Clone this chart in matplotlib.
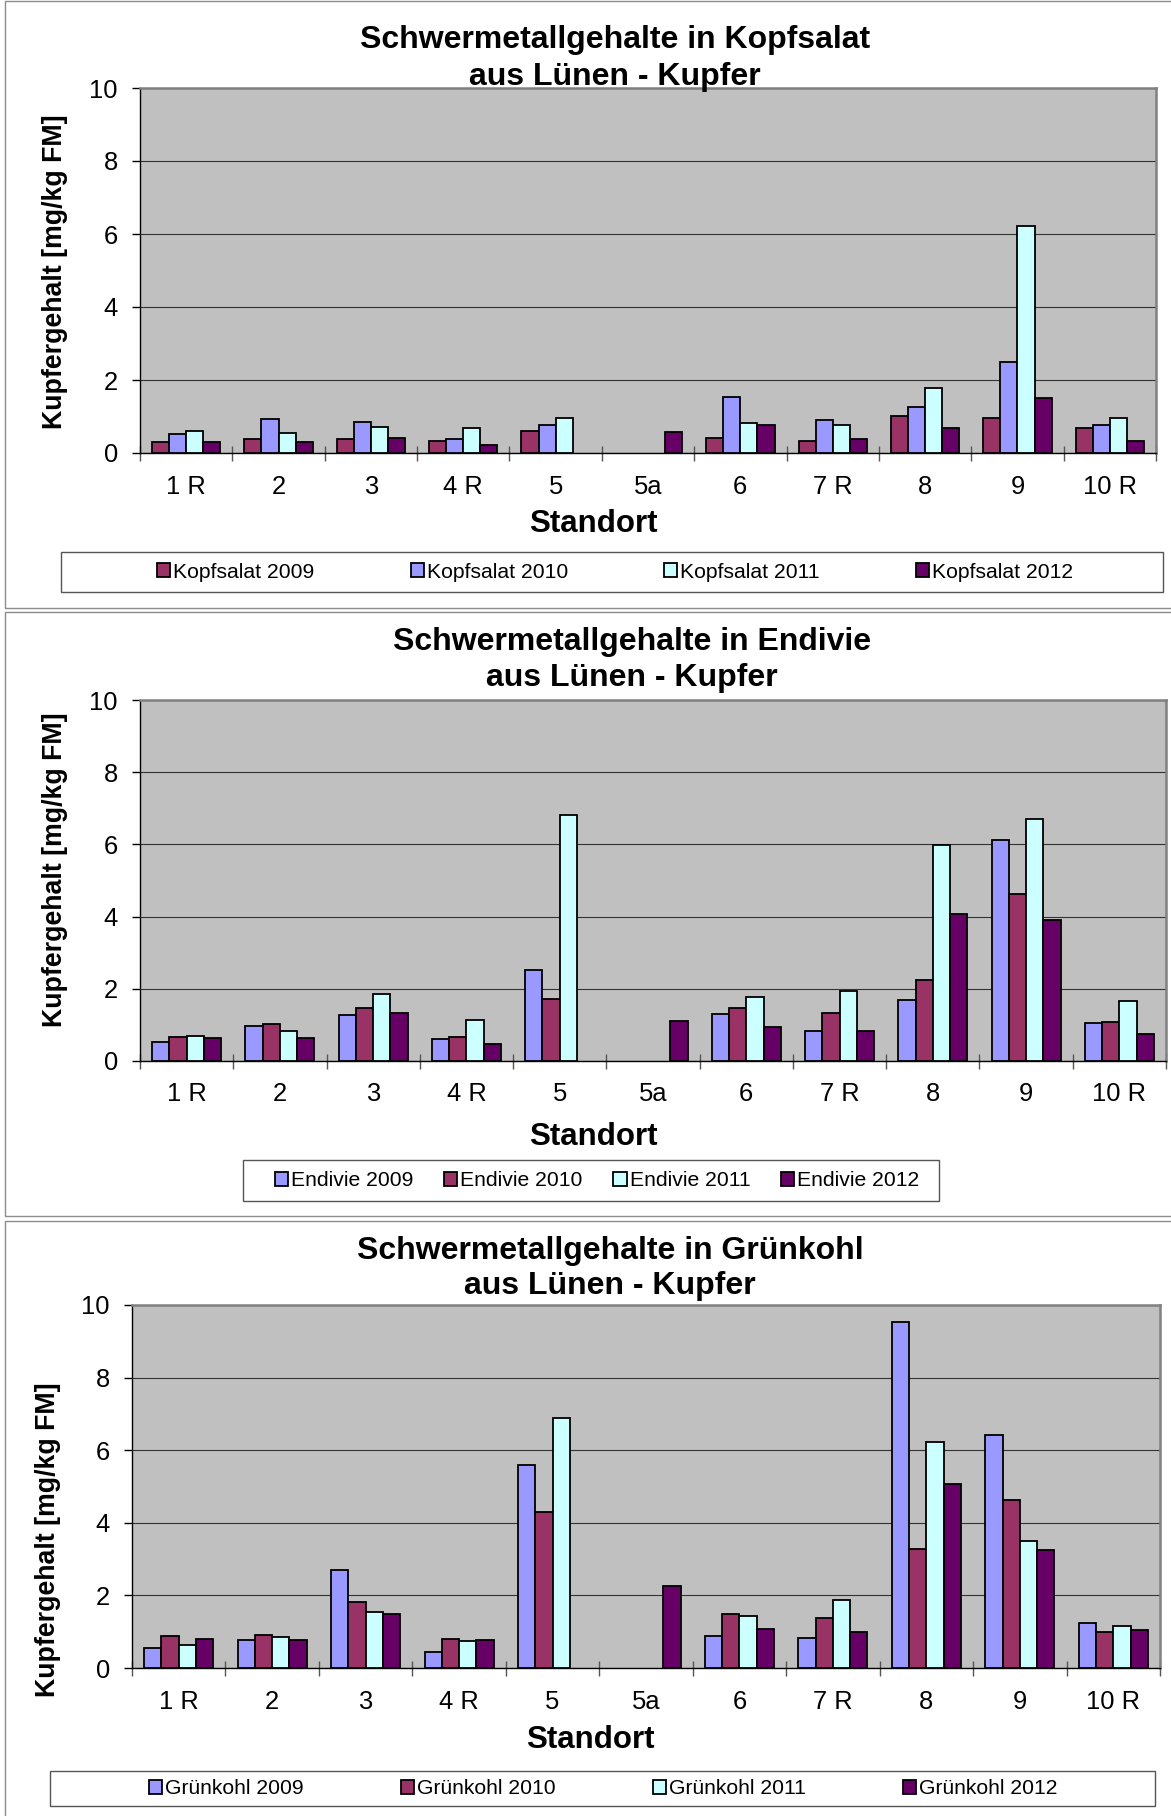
import numpy as np
import matplotlib
matplotlib.use("Agg")
import matplotlib.pyplot as plt
from matplotlib.patches import Rectangle

plt.rcParams['font.family'] = ['Liberation Sans', 'DejaVu Sans']

nan = np.nan
standorte = ["1 R", "2", "3", "4 R", "5", "5a", "6", "7 R", "8", "9", "10 R"]

# Kopfsalat, Kupfergehalt in mg/kg FM
kopfsalat_2009 = [0.29, 0.37, 0.39, 0.32, 0.61, nan, 0.40, 0.33, 1.02, 0.96, 0.69]
kopfsalat_2010 = [0.53, 0.94, 0.86, 0.37, 0.77, nan, 1.53, 0.91, 1.27, 2.49, 0.77]
kopfsalat_2011 = [0.59, 0.55, 0.71, 0.69, 0.96, nan, 0.83, 0.77, 1.78, 6.22, 0.95]
kopfsalat_2012 = [0.31, 0.31, 0.42, 0.21, nan, 0.58, 0.77, 0.37, 0.68, 1.51, 0.32]

# Endivie
endivie_2009 = [0.54, 0.96, 1.27, 0.60, 2.52, nan, 1.30, 0.84, 1.70, 6.13, 1.05]
endivie_2010 = [0.67, 1.02, 1.46, 0.66, 1.71, nan, 1.48, 1.32, 2.25, 4.62, 1.08]
endivie_2011 = [0.68, 0.83, 1.86, 1.13, 6.81, nan, 1.77, 1.95, 5.98, 6.71, 1.67]
endivie_2012 = [0.65, 0.64, 1.32, 0.46, nan, 1.11, 0.94, 0.82, 4.07, 3.90, 0.76]

# Grünkohl
gruenkohl_2009 = [0.55, 0.77, 2.71, 0.45, 5.59, nan, 0.88, 0.84, 9.52, 6.43, 1.24]
gruenkohl_2010 = [0.88, 0.92, 1.83, 0.80, 4.30, nan, 1.48, 1.38, 3.29, 4.62, 1.00]
gruenkohl_2011 = [0.64, 0.85, 1.55, 0.74, 6.88, nan, 1.42, 1.86, 6.23, 3.49, 1.16]
gruenkohl_2012 = [0.79, 0.78, 1.48, 0.77, nan, 2.25, 1.08, 0.99, 5.07, 3.25, 1.06]

jahre = ["2009", "2010", "2011", "2012"]

MAROON = "#993366"
LAVENDER = "#9999FF"
ICE = "#CCFFFF"
PURPLE = "#660066"

W, H = 1171, 1816
fig = plt.figure(figsize=(W / 100, H / 100), dpi=100)


def fx(x):
    return x / W


def fy(y):
    return 1 - y / H


def frame(x0, y0, x1, y1, color="#8c8c8c", lw=1.0):
    fig.add_artist(Rectangle((fx(x0), fy(y1)), fx(x1) - fx(x0), fy(y0) - fy(y1),
                             transform=fig.transFigure, fill=False,
                             edgecolor=color, linewidth=lw))


panels = [
    dict(name="Kopfsalat",
         series=[kopfsalat_2009, kopfsalat_2010, kopfsalat_2011, kopfsalat_2012],
         colors=[MAROON, LAVENDER, ICE, PURPLE],
         box=(5, 1, 1175, 608),
         ax=(140, 88, 1156, 453),
         title_x=615, title_y=(48, 85),
         ylab=(55, 272), std=(593, 532), xpad=16,
         leg_box=(61, 552, 1163, 592), leg_x=157, leg_y=572, colsp=4.55),
    dict(name="Endivie",
         series=[endivie_2009, endivie_2010, endivie_2011, endivie_2012],
         colors=[LAVENDER, MAROON, ICE, PURPLE],
         box=(5, 612, 1175, 1216),
         ax=(140, 700, 1166, 1061),
         title_x=632, title_y=(650, 686),
         ylab=(55, 870), std=(593, 1145), xpad=15,
         leg_box=(243, 1160, 939, 1201), leg_x=275, leg_y=1181, colsp=1.45),
    dict(name="Grünkohl",
         series=[gruenkohl_2009, gruenkohl_2010, gruenkohl_2011, gruenkohl_2012],
         colors=[LAVENDER, MAROON, ICE, PURPLE],
         box=(5, 1221, 1175, 1830),
         ax=(132, 1305, 1160, 1668),
         title_x=610, title_y=(1259, 1294),
         ylab=(48, 1540), std=(590, 1748), xpad=16,
         leg_box=(50, 1771, 1155, 1806), leg_x=149, leg_y=1789, colsp=4.6),
]

x = np.arange(len(standorte))
bw = 0.185

for p in panels:
    frame(*p["box"], color="#8c8c8c", lw=1.0)

    l, t, r, b = p["ax"]
    ax = fig.add_axes([fx(l), fy(b), fx(r) - fx(l), fy(t) - fy(b)])
    ax.set_facecolor("#C0C0C0")
    ax.set_xlim(-0.5, len(standorte) - 0.5)
    ax.set_ylim(0, 10)
    ax.set_yticks(np.arange(0, 11, 2))
    ax.grid(axis="y", color="#333333", linewidth=0.8, zorder=0)
    ax.set_axisbelow(True)

    handles = []
    for j, (vals, col) in enumerate(zip(p["series"], p["colors"])):
        vals = np.asarray(vals, dtype=float)
        ok = ~np.isnan(vals)
        ax.bar(x[ok] + (j - 1.5) * bw, vals[ok], width=bw, color=col,
               edgecolor="black", linewidth=1.3, zorder=3)
        handles.append(Rectangle((0, 0), 1, 1, facecolor=col, edgecolor="black",
                                 linewidth=1.3))

    for side in ("top", "right"):
        ax.spines[side].set_color("#808080")
        ax.spines[side].set_linewidth(1.8)
    for side in ("left", "bottom"):
        ax.spines[side].set_color("black")
        ax.spines[side].set_linewidth(1.0)

    ax.set_xticks(x)
    ax.set_xticklabels(standorte)
    ax.set_xticks(np.arange(-0.5, len(standorte)), minor=True)
    ax.tick_params(axis="x", which="major", length=0, pad=p["xpad"], labelsize=18.4)
    ax.tick_params(axis="x", which="minor", direction="inout", length=10.8,
                   width=1.0, color="#555555")
    ax.tick_params(axis="y", which="major", direction="out", length=5.5,
                   width=1.0, color="black", pad=10.4, labelsize=18.4)

    fig.text(fx(p["title_x"]), fy(p["title_y"][0]),
             f"Schwermetallgehalte in {p['name']}", ha="center", va="baseline",
             fontsize=23, fontweight="bold")
    fig.text(fx(p["title_x"]), fy(p["title_y"][1]), "aus Lünen - Kupfer",
             ha="center", va="baseline", fontsize=23, fontweight="bold")

    fig.text(fx(p["ylab"][0]), fy(p["ylab"][1]), "Kupfergehalt [mg/kg FM]",
             rotation=90, ha="center", va="center", fontsize=19.3, fontweight="bold")

    fig.text(fx(p["std"][0]), fy(p["std"][1]), "Standort", ha="center",
             va="baseline", fontsize=22.5, fontweight="bold")

    lx0, ly0, lx1, ly1 = p["leg_box"]
    frame(lx0, ly0, lx1, ly1, color="#555555", lw=1.0)
    labels = [f"{p['name']} {j}" for j in jahre]
    ax.legend(handles, labels, loc="center left",
              bbox_to_anchor=(fx(p["leg_x"]), fy(p["leg_y"])),
              bbox_transform=fig.transFigure, ncol=4, frameon=False,
              fontsize=15.2, handlelength=0.62, handleheight=0.62,
              handletextpad=0.15, columnspacing=p["colsp"], borderpad=0,
              borderaxespad=0)

fig.savefig("out.png", dpi=100, facecolor="white")
